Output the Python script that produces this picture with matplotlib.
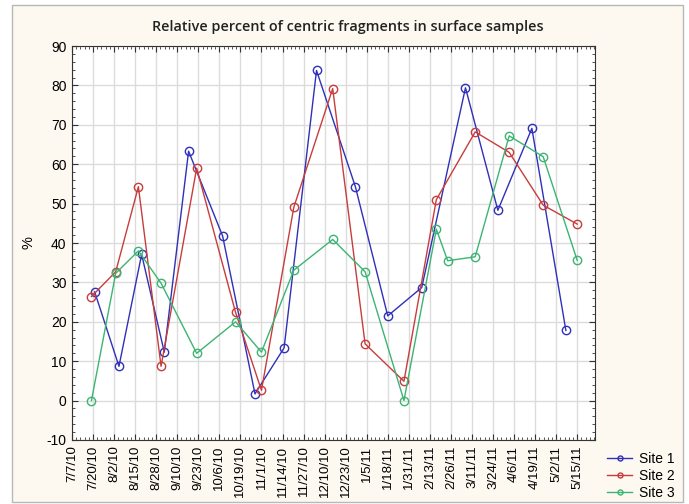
import numpy as np
import pandas as pd
import matplotlib
matplotlib.use('Agg')
import matplotlib.pyplot as plt
from matplotlib.patches import Rectangle
from matplotlib.ticker import MultipleLocator, AutoMinorLocator

plt.rcParams['axes.unicode_minus'] = False

# tick labels on the date axis (every 13 days)
tick_labels = ['7/7/10', '7/20/10', '8/2/10', '8/15/10', '8/28/10', '9/10/10', '9/23/10',
               '10/6/10', '10/19/10', '11/1/10', '11/14/10', '11/27/10', '12/10/10',
               '12/23/10', '1/5/11', '1/18/11', '1/31/11', '2/13/11', '2/26/11',
               '3/11/11', '3/24/11', '4/6/11', '4/19/11', '5/2/11', '5/15/11']

site1_dates = ['2010-07-21', '2010-08-05', '2010-08-19', '2010-09-02', '2010-09-17',
               '2010-10-08', '2010-10-28', '2010-11-15', '2010-12-05', '2010-12-29',
               '2011-01-18', '2011-02-08', '2011-03-07', '2011-03-27', '2011-04-17',
               '2011-05-08']
site1 = [27.6, 8.7, 37.1, 12.3, 63.3, 41.8, 1.7, 13.4, 83.8, 54.3,
         21.5, 28.7, 79.4, 48.3, 69.1, 17.8]

site2_dates = ['2010-07-19', '2010-08-03', '2010-08-17', '2010-08-31', '2010-09-22',
               '2010-10-16', '2010-11-01', '2010-11-21', '2010-12-15', '2011-01-04',
               '2011-01-28', '2011-02-17', '2011-03-13', '2011-04-03', '2011-04-24',
               '2011-05-15']
site2 = [26.4, 32.7, 54.3, 8.7, 59.0, 22.4, 2.6, 49.1, 79.2, 14.4,
         4.9, 51.0, 68.2, 63.0, 49.6, 44.8]

site3_dates = ['2010-07-19', '2010-08-03', '2010-08-17', '2010-08-31', '2010-09-22',
               '2010-10-16', '2010-11-01', '2010-11-21', '2010-12-15', '2011-01-04',
               '2011-01-28', '2011-02-17', '2011-02-24', '2011-03-13', '2011-04-03',
               '2011-04-24', '2011-05-15']
site3 = [0.0, 32.3, 38.0, 29.8, 12.0, 20.0, 12.3, 33.1, 40.9, 32.7,
         0.0, 43.5, 35.5, 36.5, 67.2, 61.9, 35.6]

bg = '#fdf8f0'
fig = plt.figure(figsize=(6.89, 5.04), dpi=100)
fig.patch.set_facecolor('white')
fig.patches.append(Rectangle((0.017, 0.004), 0.975, 0.986, transform=fig.transFigure,
                             facecolor=bg, edgecolor='#b8b8b8', linewidth=1, zorder=-1))

ax = fig.add_axes([0.1045, 0.127, 0.7591, 0.7817])
ax.set_facecolor('white')

series = [(site1_dates, site1, '#3030b8', 'Site 1'),
          (site2_dates, site2, '#c83c3c', 'Site 2'),
          (site3_dates, site3, '#3cb473', 'Site 3')]
for d, v, c, lab in series:
    ax.plot(pd.to_datetime(d), v, color=c, lw=1, marker='o', ms=6,
            mfc='none', mec=c, mew=1, label=lab)

ticks = pd.to_datetime(tick_labels, format='%m/%d/%y')
ax.set_xticks(ticks)
ax.set_xticklabels(tick_labels, rotation=90, fontsize=9.5, family='Liberation Sans')
ax.set_xlim(ticks[0], ticks[-1] + pd.Timedelta(days=11))
ax.xaxis.set_minor_locator(AutoMinorLocator(5))

ax.set_ylim(-10, 90)
ax.yaxis.set_major_locator(MultipleLocator(10))
ax.yaxis.set_minor_locator(MultipleLocator(2))
for t in ax.get_yticklabels():
    t.set_family('Liberation Sans')
    t.set_fontsize(10)

ax.grid(True, color='#dcdcdc', lw=1)
ax.set_axisbelow(True)
ax.tick_params(which='both', direction='in', top=True, right=True, color='#333333')
ax.tick_params(which='major', length=4, pad=4)
ax.tick_params(which='minor', length=2)
for s in ax.spines.values():
    s.set_color('#333333')

ax.set_ylabel('%', fontsize=10.5, family='Liberation Sans', labelpad=8)
fig.text(0.505, 0.947, 'Relative percent of centric fragments in surface samples',
         ha='center', va='center', fontsize=10.4, fontweight='semibold',
         family='Open Sans', color='#222222')

leg = ax.legend(loc='upper left', bbox_to_anchor=(1.01, -0.013), frameon=False,
                handlelength=1.8, labelspacing=0.22, borderpad=0, markerscale=0.6,
                handletextpad=0.5, prop={'family': 'Liberation Sans', 'size': 10})

fig.savefig('out.png', dpi=100, facecolor=fig.get_facecolor())
